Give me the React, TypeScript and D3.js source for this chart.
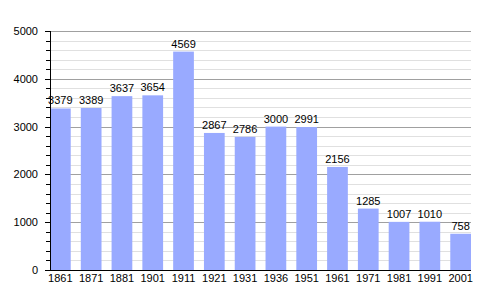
import React from "react";
import * as d3 from "d3";

const years = ["1861","1871","1881","1901","1911","1921","1931","1936","1951","1961","1971","1981","1991","2001"];
const population = [3379,3389,3637,3654,4569,2867,2786,3000,2991,2156,1285,1007,1010,758];
const yTicks = [0,1000,2000,3000,4000,5000];

export default function App() {
  const W = 500, H = 300;
  const left = 50, right = 471, top = 31, bottom = 270;
  const x = d3.scaleBand<string>().domain(years).range([left, right]).paddingInner(0.327).paddingOuter(0).align(0);
  const y = d3.scaleLinear().domain([0, 5000]).range([bottom, top]);
  const minor = d3.range(0, 5001, 200);
  const font = "'Liberation Sans', Arial, sans-serif";
  return (
    <svg width={W} height={H} style={{ position: "absolute", left: 0, top: 0, background: "#fff" }} fontFamily={font}>
      {minor.filter(v => v % 1000 !== 0).map(v => (
        <line key={"m" + v} x1={left} x2={right} y1={Math.round(y(v)) + 0.5} y2={Math.round(y(v)) + 0.5} stroke="#e0e0e0" strokeWidth={1} />
      ))}
      {yTicks.filter(v => v > 0).map(v => (
        <line key={"M" + v} x1={left} x2={right} y1={Math.round(y(v)) + 0.5} y2={Math.round(y(v)) + 0.5} stroke="#a0a0a0" strokeWidth={1} />
      ))}
      {years.map((yr, i) => (
        <rect key={yr} x={x(yr)} y={y(population[i])} width={x.bandwidth()} height={bottom - y(population[i])} fill="#99aaff" />
      ))}
      {years.map((yr, i) => (
        <text key={"l" + yr} x={(x(yr) as number) + x.bandwidth() / 2} y={y(population[i]) - 4} textAnchor="middle" fontSize={11} fill="#000">{population[i]}</text>
      ))}
      {minor.map(v => (
        <line key={"t" + v} x1={v % 1000 === 0 ? 45 : 46} x2={left} y1={Math.round(y(v)) + 0.5} y2={Math.round(y(v)) + 0.5} stroke="#000" strokeWidth={1} />
      ))}
      <line x1={left + 0.5} x2={left + 0.5} y1={top} y2={bottom + 1} stroke="#000" strokeWidth={1} />
      <line x1={left} x2={right} y1={bottom + 0.5} y2={bottom + 0.5} stroke="#000" strokeWidth={1} />
      {yTicks.map(v => (
        <text key={"y" + v} x={38} y={y(v) + 4} textAnchor="end" fontSize={11} fill="#000">{v}</text>
      ))}
      {years.map(yr => (
        <text key={"x" + yr} x={(x(yr) as number) + x.bandwidth() / 2} y={282} textAnchor="middle" fontSize={11} fill="#000">{yr}</text>
      ))}
    </svg>
  );
}
